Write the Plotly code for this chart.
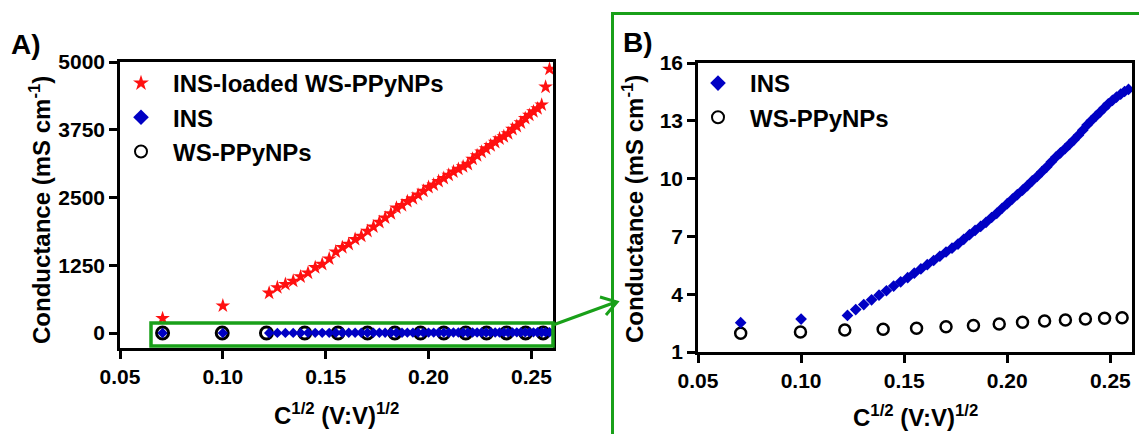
import plotly.graph_objects as go

W, H = 1139, 434

# ---------------- data ----------------
# sqrt(C) values for the densely sampled part (shared by INS-loaded and INS)
x_dense = [0.1225, 0.1265, 0.1304, 0.1342, 0.1378, 0.1414, 0.1449, 0.1483, 0.1517, 0.1549,
           0.1581, 0.1612, 0.1643, 0.1673, 0.1703, 0.1732, 0.1761, 0.1789, 0.1817, 0.1844,
           0.1871, 0.1897, 0.1924, 0.1949, 0.1975, 0.2000, 0.2025, 0.2049, 0.2074, 0.2098,
           0.2121, 0.2145, 0.2168, 0.2191, 0.2214, 0.2236, 0.2258, 0.2280, 0.2302, 0.2324,
           0.2345, 0.2366, 0.2387, 0.2408, 0.2429, 0.2449, 0.2470, 0.2490, 0.2510, 0.2530,
           0.2550, 0.2569, 0.2588]
x_early = [0.0707, 0.1000]

loaded_early = [271, 504]
loaded_dense = [740, 840, 900, 960, 1040, 1110, 1210, 1270, 1370, 1500,
                1580, 1640, 1730, 1790, 1880, 1960, 2045, 2125, 2205, 2310,
                2355, 2430, 2480, 2550, 2620, 2690, 2735, 2800, 2855, 2915,
                2975, 3025, 3070, 3115, 3210, 3275, 3340, 3400, 3460, 3520,
                3585, 3625, 3680, 3760, 3815, 3880, 3960, 4020, 4085, 4140,
                4210, 4540, 4870]

ins_early = [2.52, 2.71]
ins_dense = [2.90, 3.20, 3.46, 3.71, 3.95, 4.18, 4.42, 4.64, 4.86, 5.09,
             5.31, 5.53, 5.75, 5.97, 6.19, 6.39, 6.60, 6.85, 7.09, 7.31,
             7.52, 7.73, 7.98, 8.20, 8.46, 8.70, 8.94, 9.17, 9.40, 9.64,
             9.88, 10.11, 10.36, 10.60, 10.87, 11.12, 11.34, 11.55, 11.78, 12.01,
             12.25, 12.51, 12.78, 13.01, 13.23, 13.44, 13.67, 13.88, 14.06, 14.23,
             14.38, 14.52, 14.63]

x_ppy = [0.0707, 0.0997, 0.1212, 0.1398, 0.1560, 0.1703, 0.1836, 0.1961, 0.2074, 0.2181,
         0.2282, 0.2379, 0.2472, 0.2557]
ppy = [1.97, 2.04, 2.14, 2.18, 2.23, 2.31, 2.38, 2.45, 2.54, 2.61, 2.66, 2.71, 2.75, 2.78]

x_ticks = [0.05, 0.10, 0.15, 0.20, 0.25]
yA_ticks = [0, 1250, 2500, 3750, 5000]
yB_ticks = [1, 4, 7, 10, 13, 16]

x_ins = x_early + x_dense
y_loaded = loaded_early + loaded_dense
y_ins = ins_early + ins_dense

# ---------------- style ----------------
RED = "#FF1010"
BLUE = "#0000C4"
GREEN = "#19A019"
FONT = "Liberation Sans, Arial, sans-serif"


def px(x):
    return x / W


def py(y):
    return 1 - y / H


fig = go.Figure()

# Panel A
fig.add_trace(go.Scatter(x=x_ppy, y=ppy, mode="markers", name="WS-PPyNPs",
                         marker=dict(symbol="circle-open", size=12, color="black",
                                     line=dict(width=3, color="black")),
                         xaxis="x", yaxis="y", legend="legend", legendrank=3))
fig.add_trace(go.Scatter(x=x_ins, y=y_ins, mode="markers", name="INS",
                         marker=dict(symbol="diamond", size=8, color=BLUE, line=dict(width=0)),
                         xaxis="x", yaxis="y", legend="legend", legendrank=2))
fig.add_trace(go.Scatter(x=x_ins, y=y_loaded, mode="markers", name="INS-loaded WS-PPyNPs",
                         marker=dict(symbol="star", size=11, color=RED, line=dict(width=0)),
                         xaxis="x", yaxis="y", legend="legend", legendrank=1))

# Panel B
fig.add_trace(go.Scatter(x=x_ppy, y=ppy, mode="markers", name="WS-PPyNPs",
                         marker=dict(symbol="circle-open", size=11, color="black",
                                     line=dict(width=2.5, color="black")),
                         xaxis="x2", yaxis="y2", legend="legend2", legendrank=2))
fig.add_trace(go.Scatter(x=x_ins, y=y_ins, mode="markers", name="INS",
                         marker=dict(symbol="diamond", size=9, color=BLUE, line=dict(width=0)),
                         xaxis="x2", yaxis="y2", legend="legend2", legendrank=1))

axis_common = dict(showline=True, mirror=True, linewidth=2.5, linecolor="black",
                   ticks="outside", ticklen=8, tickwidth=2.5, tickcolor="black",
                   showgrid=False, zeroline=False, automargin=False,
                   tickfont=dict(family=FONT, size=21, color="black", weight="bold"))

legend_font = dict(family=FONT, size=24, color="black", weight="bold")

fig.update_layout(
    width=W, height=H,
    margin=dict(l=0, r=0, t=0, b=0, autoexpand=False),
    paper_bgcolor="white", plot_bgcolor="white",
    font=dict(family=FONT, color="black"),
    xaxis=dict(domain=[px(120), px(553)], range=[0.05, 0.2605], tickvals=x_ticks,
               tickformat=".2f", anchor="y", **axis_common),
    yaxis=dict(domain=[py(348), py(62)], range=[-275, 5000], tickvals=yA_ticks,
               anchor="x", **axis_common),
    xaxis2=dict(domain=[px(698), px(1132)], range=[0.05, 0.2605], tickvals=x_ticks,
                tickformat=".2f", anchor="y2", **axis_common),
    yaxis2=dict(domain=[py(352), py(63)], range=[1, 16], tickvals=yB_ticks,
                anchor="x2", **axis_common),
    legend=dict(x=px(109), y=py(61), xanchor="left", yanchor="top",
                bgcolor="rgba(0,0,0,0)", itemsizing="constant", itemwidth=54,
                traceorder="normal", font=legend_font),
    legend2=dict(x=px(686), y=py(61), xanchor="left", yanchor="top",
                 bgcolor="rgba(0,0,0,0)", itemsizing="constant", itemwidth=54,
                 traceorder="normal", font=legend_font),
    showlegend=True,
)

title_font = dict(family=FONT, size=24, color="black", weight="bold")
ytitle = "Conductance (mS cm<sup>-1</sup>)"
xtitle = "C<sup>1/2</sup> (V:V)<sup>1/2</sup>"
annotations = [
    dict(text=ytitle, x=px(40), y=py(210), textangle=-90, showarrow=False,
         xref="paper", yref="paper", xanchor="center", yanchor="middle", font=title_font),
    dict(text=ytitle, x=px(633), y=py(209), textangle=-90, showarrow=False,
         xref="paper", yref="paper", xanchor="center", yanchor="middle", font=title_font),
    dict(text=xtitle, x=px(336), y=py(414), showarrow=False,
         xref="paper", yref="paper", xanchor="center", yanchor="middle", font=title_font),
    dict(text=xtitle, x=px(915), y=py(416), showarrow=False,
         xref="paper", yref="paper", xanchor="center", yanchor="middle", font=title_font),
    dict(text="A)", x=px(9), y=py(44), showarrow=False, xref="paper", yref="paper",
         xanchor="left", yanchor="middle",
         font=dict(family=FONT, size=28, color="black", weight="bold")),
    dict(text="B)", x=px(621), y=py(43), showarrow=False, xref="paper", yref="paper",
         xanchor="left", yanchor="middle",
         font=dict(family=FONT, size=28, color="black", weight="bold")),
]
fig.update_layout(annotations=annotations)

shapes = [
    # zoom rectangle in panel A
    dict(type="rect", xref="paper", yref="paper", x0=px(151), x1=px(553), y0=py(346), y1=py(323),
         line=dict(color=GREEN, width=3.5), fillcolor="rgba(0,0,0,0)", layer="above"),
    # frame around panel B
    dict(type="path", xref="paper", yref="paper",
         path=f"M {px(612.5)} {py(436)} L {px(612.5)} {py(13.5)} L {px(1141)} {py(13.5)}",
         line=dict(color=GREEN, width=3), layer="above"),
    # arrow shaft
    dict(type="path", xref="paper", yref="paper",
         path=f"M {px(553)} {py(325)} L {px(616)} {py(302)}",
         line=dict(color=GREEN, width=3), layer="above"),
    # arrow head
    dict(type="path", xref="paper", yref="paper",
         path=f"M {px(600)} {py(297)} L {px(617)} {py(302)} L {px(606)} {py(315)}",
         line=dict(color=GREEN, width=3), layer="above"),
]
fig.update_layout(shapes=shapes)

fig.write_html("out.html", config={"displayModeBar": False},
               post_script="document.body.style.margin='0px';document.body.style.overflow='hidden';")
